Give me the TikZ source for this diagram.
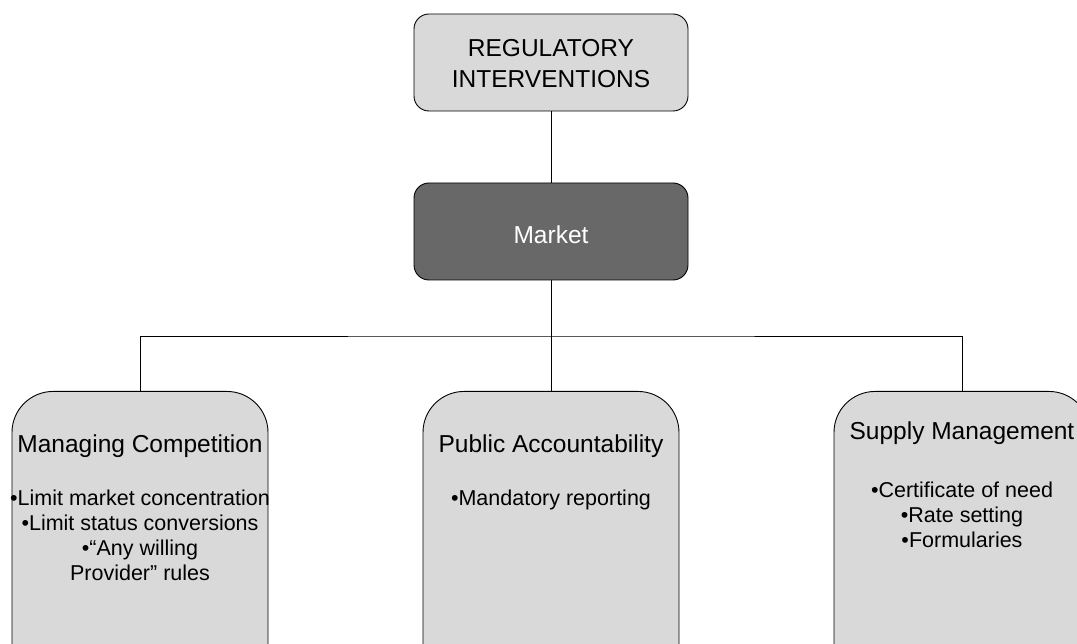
\documentclass[tikz,border=0pt]{standalone}
\usepackage{fontspec}
\setmainfont{Liberation Sans}
\definecolor{boxgray}{HTML}{D9D9D9}
\definecolor{darkbox}{HTML}{686868}
\begin{document}
\begin{tikzpicture}[x=1pt,y=-1pt,
  topbox/.style={draw=black, line width=0.9pt, rounded corners=15pt, minimum width=274pt, minimum height=97pt, inner sep=0pt, align=center},
  branch/.style={draw=black, line width=0.9pt, fill=boxgray, rounded corners=41pt, minimum width=256pt, minimum height=320pt, anchor=north, inner sep=0pt},
  head/.style={anchor=base, font=\fontsize{24.5}{29}\selectfont, inner sep=0pt},
  item/.style={anchor=base, font=\fontsize{21.5}{25}\selectfont, inner sep=0pt},
  link/.style={draw=black, line width=0.9pt}]
\useasboundingbox (0,0) rectangle (1077,644);
\clip (0,0) rectangle (1077,644);
% boxes
\node[topbox, fill=boxgray] (reg) at (551,62.5) {};
\node[topbox, fill=darkbox] (market) at (551,231.5) {};
\node[branch] (left) at (140,391) {};
\node[branch] (mid) at (551,391) {};
\node[branch] (right) at (962,391) {};
% connectors
\coordinate (bar) at (551,336);
\draw[link] (reg.south) -- (market.north);
\draw[link] (market.south) -- (mid.north);
\draw[link] (left.north) |- (bar) -| (right.north);
% top texts
\node[head] (t1) at (551,57) {REGULATORY};
\node[head] (t2) at (551,88) {INTERVENTIONS};
\node[head, text=white] (t3) at (551,244) {Market};
% left
\node[head] (l0) at (140,452) {Managing Competition};
\node[item] (l1) at (140,505) {•Limit market concentration};
\node[item] (l2) at (140,530) {•Limit status conversions};
\node[item] (l3) at (140,555) {•“Any willing};
\node[item] (l4) at (140,580) {Provider” rules};
% middle
\node[head] (m0) at (551,453) {Public Accountability};
\node[item] (m1) at (551,505) {•Mandatory reporting};
% right
\node[head] (r0) at (962,439) {Supply Management};
\node[item] (r1) at (962,497) {•Certificate of need};
\node[item] (r2) at (962,522) {•Rate setting};
\node[item] (r3) at (962,547) {•Formularies};
\end{tikzpicture}
\end{document}
